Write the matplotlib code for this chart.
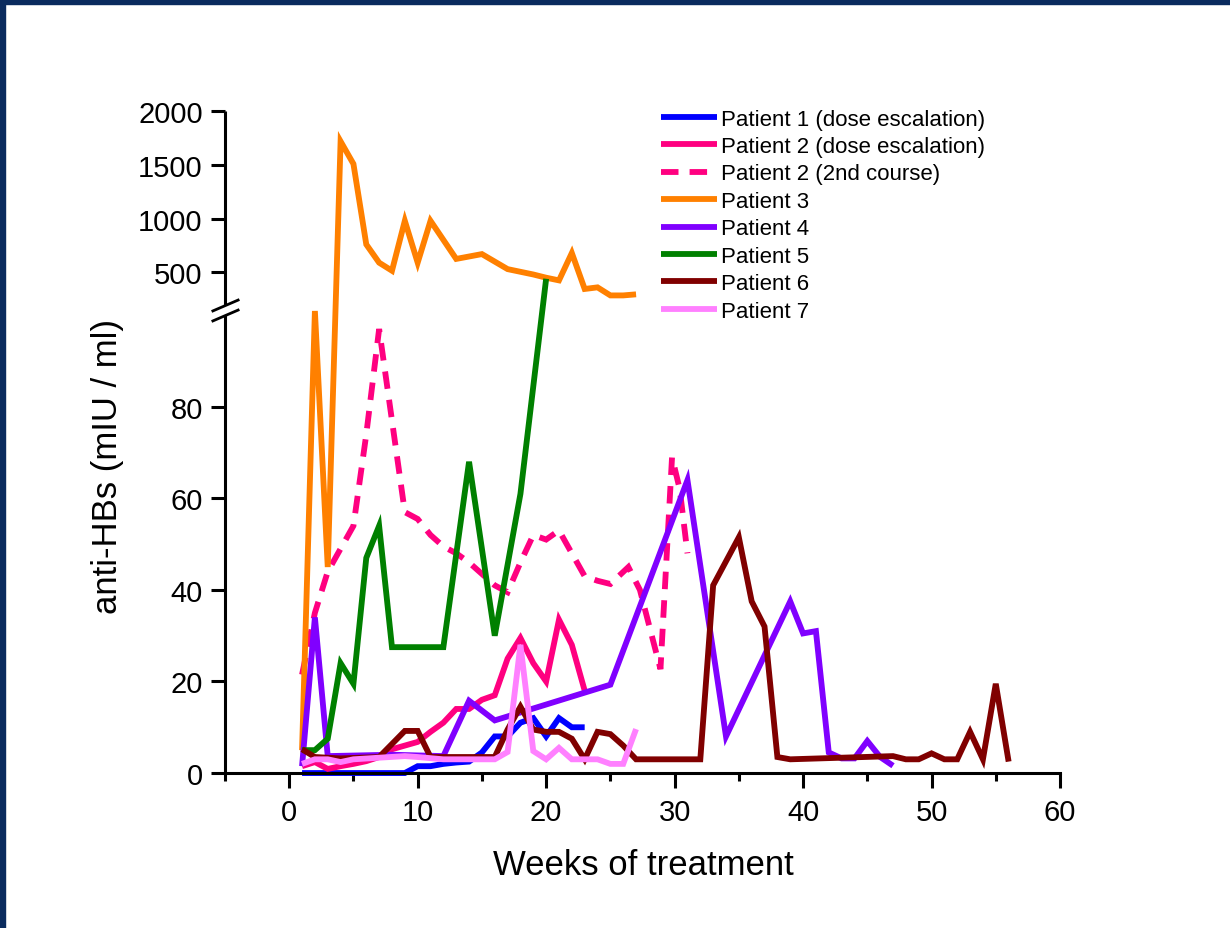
import numpy as np
import matplotlib

matplotlib.use("Agg")
import matplotlib.pyplot as plt
from matplotlib.patches import Rectangle
from matplotlib.transforms import blended_transform_factory

# anti-HBs titres per patient (weeks of treatment, mIU/ml)
p1_weeks = list(range(1, 24))
p1_vals = [0, 0, 0, 0, 0, 0, 0, 0, 0, 1.5, 1.5, 2, 2.3, 2.5, 4.5, 8, 8, 11, 12, 8, 12, 10, 10]

p2_weeks = list(range(1, 24))
p2_vals = [1.5, 2.4, 0.9, 1.5, 2, 2.6, 3.5, 5.2, 6, 6.8, 9, 11, 14, 14, 16, 17, 25, 29.5, 24, 20, 33.5, 28, 18]

p2b_weeks = list(range(1, 26)) + [26.4, 27.3, 28.9, 29.8, 30.4, 31]
p2b_vals = [21.5, 35, 44, 49, 54, 74, 97, 77, 57, 55.5, 52, 49.5, 48, 46, 43.5, 41, 39.5, 46, 52, 51,
            53, 48, 43, 42, 41.3, 45, 40, 22.7, 69, 62, 48]

p3_weeks = [1, 2, 3, 4, 5, 6, 7, 8, 9, 10, 11, 13, 15, 17, 19, 20, 21, 22, 23, 24, 25, 26, 27]
p3_vals = [5, 140, 45, 1720, 1510, 760, 590, 515, 980, 590, 980, 625, 670, 530, 480, 450, 425, 680,
           345, 360, 285, 285, 295]

p4_weeks = [1, 2, 3, 8, 12, 14, 16, 25, 31, 34, 39, 40, 41, 42, 43, 44, 45, 46, 47]
p4_vals = [1.5, 34, 3.7, 4, 3.7, 15.8, 11.5, 19.3, 64, 8, 37.5, 30.5, 31, 4.5, 3.2, 3.2, 7, 3.5, 1.6]

p5_weeks = [1, 2, 3, 4, 5, 6, 7, 8, 12, 14, 16, 18, 20]
p5_vals = [5, 5, 7.5, 24, 19.5, 47, 54, 27.5, 27.5, 68, 30, 61, 440]

p6_weeks = [1, 2, 4, 7, 9, 10, 11, 16, 17, 18, 19, 20, 21, 22, 23, 24, 25, 26, 27, 32, 33, 35, 36, 37,
            38, 39, 47, 48, 49, 50, 51, 52, 53, 54, 55, 56]
p6_vals = [5.2, 3.5, 3.2, 3.5, 9.2, 9.2, 3.5, 3.5, 9.5, 14.5, 9.5, 9, 9, 7.5, 3, 9, 8.5, 6, 3, 3, 41,
           51.5, 37.5, 32, 3.5, 3, 3.7, 3, 3, 4.3, 3, 3, 9, 3, 19.5, 2.5]

p7_weeks = [1, 2, 3, 4, 5, 9, 10, 12, 16, 17, 18, 19, 20, 21, 22, 23, 24, 25, 26, 27]
p7_vals = [2, 3, 3, 2.4, 3, 3.7, 3.5, 3, 3, 4.6, 28, 4.8, 3, 5.5, 3, 3, 3, 2, 2, 9.6]

series = [
    ("Patient 1 (dose escalation)", p1_weeks, p1_vals, "#0000ff", "-"),
    ("Patient 2 (dose escalation)", p2_weeks, p2_vals, "#ff0080", "-"),
    ("Patient 2 (2nd course)", p2b_weeks, p2b_vals, "#ff0080", "--"),
    ("Patient 3", p3_weeks, p3_vals, "#ff8000", "-"),
    ("Patient 4", p4_weeks, p4_vals, "#8000ff", "-"),
    ("Patient 5", p5_weeks, p5_vals, "#008000", "-"),
    ("Patient 6", p6_weeks, p6_vals, "#800000", "-"),
    ("Patient 7", p7_weeks, p7_vals, "#ff80ff", "-"),
]

lower_ticks = [0, 20, 40, 60, 80]
upper_ticks = [500, 1000, 1500, 2000]

# broken y axis: linear up to 100, compressed above
BREAK = 100
RATIO = 0.02345


def fwd(v):
    v = np.asarray(v, dtype=float)
    return np.where(v <= BREAK, v, BREAK + (v - BREAK) * RATIO)


def inv(u):
    u = np.asarray(u, dtype=float)
    return np.where(u <= BREAK, u, BREAK + (u - BREAK) / RATIO)


plt.rcParams["font.family"] = "Liberation Sans"

fig = plt.figure(figsize=(12.3, 9.29), dpi=100)
ax = fig.add_axes([0.1829, 0.1668, 0.6789, 0.7123])
ax.set_yscale("function", functions=(fwd, inv))

for label, x, y, color, ls in series:
    line, = ax.plot(x, y, color=color, lw=4.2, ls=ls, label=label, clip_on=False,
                    solid_joinstyle="miter", solid_capstyle="butt",
                    dash_joinstyle="miter", dash_capstyle="butt")
    if ls == "--":
        line.set_dashes((3.0, 1.9))

ax.set_xlim(-5, 60)
ax.set_ylim(0, 2000)
ax.set_xticks(range(0, 61, 10))
ax.set_xticks(range(-5, 60, 10), minor=True)
ax.set_yticks(lower_ticks + upper_ticks)
ax.yaxis.set_minor_locator(matplotlib.ticker.NullLocator())

for side in ["top", "right", "left"]:
    ax.spines[side].set_visible(False)
ax.spines["bottom"].set_linewidth(2.2)

ax.tick_params(axis="both", which="major", direction="out", width=2.2, labelsize=21)
ax.tick_params(axis="y", which="major", length=10, pad=6)
ax.tick_params(axis="x", which="major", length=11, pad=7)
ax.tick_params(axis="x", which="minor", direction="out", length=6, width=2.2)

# left spine drawn in two pieces with break marks
trans = blended_transform_factory(ax.transAxes, ax.transData)
ax.plot([0, 0], [0, BREAK], color="black", lw=2.2, transform=trans, clip_on=False,
        solid_capstyle="butt", zorder=5)
ax.plot([0, 0], [200, 2000], color="black", lw=2.2, transform=trans, clip_on=False,
        solid_capstyle="butt", zorder=5)
ax.plot([0, 0], [BREAK, 200], ls="none", marker=[(-1, -0.43), (1, 0.43)], markersize=20,
        markeredgewidth=2.0, color="black", transform=trans, clip_on=False, zorder=5)

leg = fig.legend(loc="upper left", bbox_to_anchor=(0.5374, 0.8821), frameon=False,
                 fontsize=16, handlelength=2.5, handletextpad=0.22, labelspacing=0.29,
                 borderpad=0, borderaxespad=0)

fig.text(0.5228, 0.0581, "Weeks of treatment", fontsize=25, ha="center", va="baseline")
fig.text(0.087, 0.4978, "anti-HBs (mIU / ml)", fontsize=25, ha="center", va="center",
         rotation=90)

navy = "#0a2b5e"
fig.patches.append(Rectangle((0, 1 - 5 / 929), 1, 5 / 929, transform=fig.transFigure,
                             color=navy, zorder=10))
fig.patches.append(Rectangle((0, 0), 5 / 1230, 1, transform=fig.transFigure,
                             color=navy, zorder=10))

fig.savefig("out.png", dpi=100)
